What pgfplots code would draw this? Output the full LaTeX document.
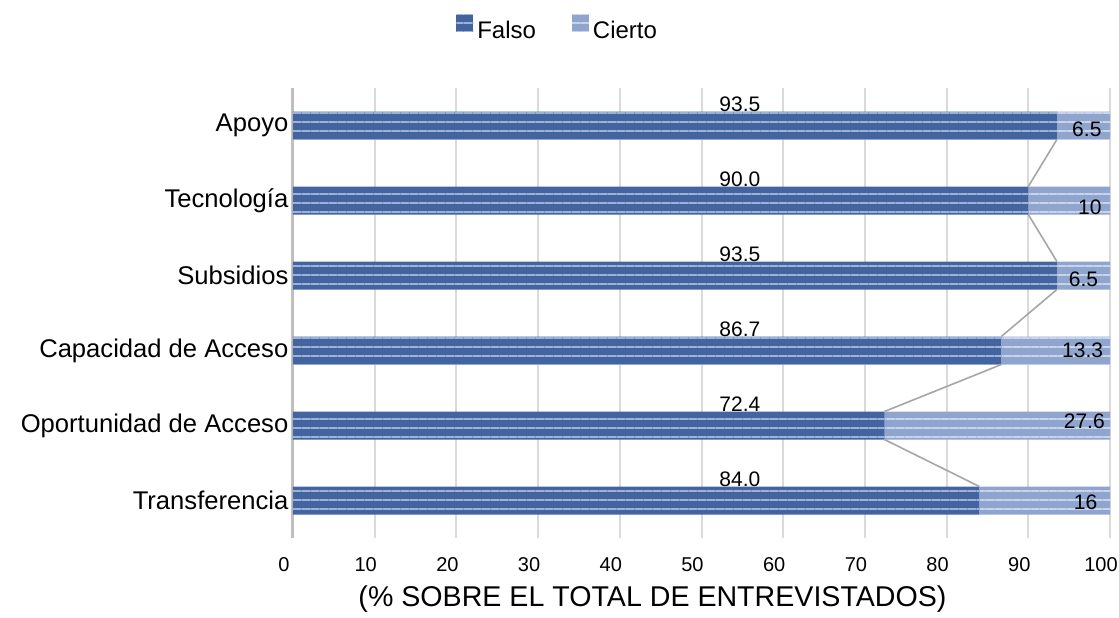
\documentclass[border=0pt]{standalone}
\usepackage{fontspec}
\setmainfont{Liberation Sans}
\usepackage{pgfplots}
\usepackage{pgfplotstable}
\pgfplotsset{compat=1.18}
\usetikzlibrary{patterns.meta}
\definecolor{falso}{HTML}{44649F}
\definecolor{falsolt}{HTML}{9DB2D9}
\definecolor{cierto}{HTML}{8FA5CE}
\definecolor{ciertolt}{HTML}{C8D4EB}
\definecolor{gridc}{HTML}{DADADA}
\definecolor{axisc}{HTML}{BFBFBF}
\definecolor{serc}{HTML}{A6A6A6}

\pgfplotstableread{
y falso cierto
0 84.0 16.0
1 72.4 27.6
2 86.7 13.3
3 93.5 6.5
4 90.0 10.0
5 93.5 6.5
}\datatab

\pgfplotstableread{
x y t
54.7 5.287 93.5
54.7 4.287 90.0
54.7 3.287 93.5
54.7 2.287 86.7
54.7 1.287 72.4
54.7 0.287 84.0
}\falsolab

\pgfplotstableread{
x y t
99.0 4.947 6.5
99.0 3.907 10
98.6 2.947 6.5
99.2 2.000 13.3
99.4 1.053 27.6
98.5 -0.027 16
}\ciertolab

\pgfplotsset{base/.style={
  scale only axis, width=408.5pt, height=225pt,
  xmin=0, xmax=100, ymin=-0.5, ymax=5.5,
}}

\begin{document}
\begin{tikzpicture}
\begin{axis}[base, name=ax,
  xbar stacked, bar width=14pt,
  axis lines*=left,
  x axis line style={draw=none},
  y axis line style={axisc, line width=1.5pt},
  xmajorgrids, grid style={gridc, line width=1pt},
  major tick length=0pt,
  xtick={0,10,...,100},
  ytick={0,...,5},
  yticklabels={Transferencia, Oportunidad de Acceso, Capacidad de Acceso, Subsidios, Tecnología, Apoyo},
  yticklabel style={font=\fontsize{12.8}{14}\selectfont, xshift=1.2pt},
  xticklabel style={font=\fontsize{10}{12}\selectfont, yshift=-6pt, xshift=-4.5pt},
  /pgf/number format/assume math mode=true,
  xlabel={(\% SOBRE EL TOTAL DE ENTREVISTADOS)},
  xlabel style={at={(axis description cs:0.44,-0.1356)}, anchor=center, font=\fontsize{14.3}{16}\selectfont},
  legend columns=2,
  legend style={at={(axis description cs:0.192,1.129)}, anchor=west, draw=none, fill=none,
    font=\fontsize{12}{14}\selectfont,
    /tikz/every even column/.append style={column sep=16pt}},
  legend image code/.code={\fill[#1] (-2pt,-0.5pt) rectangle (6.5pt,8pt);},
]
\addplot[fill=falso, draw=none,
  postaction={pattern={Lines[angle=0,distance=4.5pt,line width=1pt]}, pattern color=falsolt}]
  table[x=falso, y=y] {\datatab};
\addplot[fill=cierto, draw=none,
  postaction={pattern={Lines[angle=0,distance=4.5pt,line width=1pt]}, pattern color=ciertolt}]
  table[x=cierto, y=y] {\datatab};
\legend{Falso, Cierto}
\end{axis}

\begin{axis}[base, hide axis, clip=false]
\addplot[serc, line width=0.8pt, unbounded coords=jump] coordinates {
  (93.5,4.813) (90.0,4.187) (nan,nan)
  (90.0,3.813) (93.5,3.187) (nan,nan)
  (93.5,2.813) (86.7,2.187) (nan,nan)
  (86.7,1.813) (72.4,1.187) (nan,nan)
  (72.4,0.813) (84.0,0.187)
};
\addplot[only marks, mark=*, mark options={draw=none, fill=none}, mark size=0pt,
  nodes near coords, point meta=explicit symbolic,
  nodes near coords style={anchor=center, inner sep=0pt, text=black, font=\fontsize{10.5}{12}\selectfont}]
  table[x=x, y=y, meta=t] {\falsolab};
\addplot[only marks, mark=*, mark options={draw=none, fill=none}, mark size=0pt,
  nodes near coords, point meta=explicit symbolic,
  nodes near coords style={anchor=east, inner sep=0pt, text=black, font=\fontsize{10.5}{12}\selectfont}]
  table[x=x, y=y, meta=t] {\ciertolab};
\end{axis}
\pgfresetboundingbox
\path ([xshift=-146.5pt, yshift=-39.5pt]ax.south west) rectangle ([xshift=4.5pt, yshift=44pt]ax.north east);
\end{tikzpicture}
\end{document}
